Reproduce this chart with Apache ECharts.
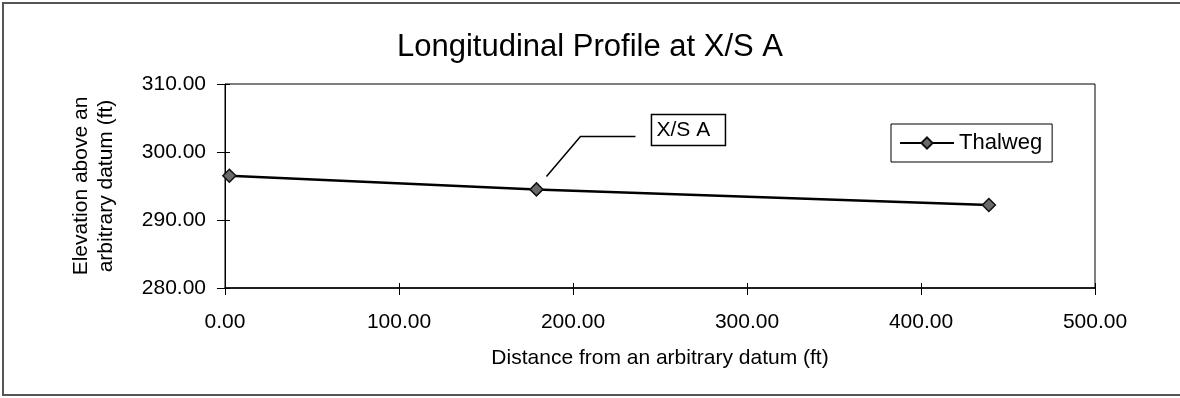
<!DOCTYPE html>
<html>
<head>
<meta charset="utf-8">
<title>Longitudinal Profile at X/S A</title>
<script src="https://cdn.jsdelivr.net/npm/echarts@6/dist/echarts.min.js"></script>
<style>
  html, body { margin: 0; padding: 0; background: #fff; }
  #chart { width: 1180px; height: 398px; }
</style>
</head>
<body>
<div id="chart"></div>
<script>
// Thalweg survey: distance along the reach (ft) and bed elevation (ft)
const distance = [2.5, 179, 439];
const thalweg = [296.5, 294.5, 292.2];

// Axis ranges and tick spacing
const xTicks = { min: 0, max: 500, interval: 100 };
const yTicks = { min: 280, max: 310, interval: 10 };

// Index of the cross-section called out on the plot
const sectionIndex = 1;
const sectionLabel = 'X/S A';

const FONT = 'Liberation Sans, Arial, Helvetica, sans-serif';
const fmt2 = v => Number(v).toFixed(2);

const chart = echarts.init(document.getElementById('chart'), null, { renderer: 'canvas' });

const grid = { left: 225, right: 85, top: 84, bottom: 110, show: true,
  borderColor: '#000', borderWidth: 1, backgroundColor: 'transparent' };

const option = {
  animation: false,
  backgroundColor: '#fff',
  title: {
    text: 'Longitudinal Profile at X/S A',
    left: 'center',
    top: 27,
    textStyle: { fontFamily: FONT, fontSize: 31, fontWeight: 'normal', color: '#000' }
  },
  legend: {
    data: ['Thalweg'],
    left: 891,
    top: 124,
    orient: 'horizontal',
    borderColor: '#000',
    borderWidth: 1,
    padding: [8, 10, 8, 8],
    itemWidth: 54,
    itemHeight: 14,
    itemGap: 6,
    textStyle: { fontFamily: FONT, fontSize: 22, color: '#000' }
  },
  grid: grid,
  xAxis: [
    {
      type: 'value', min: xTicks.min, max: xTicks.max, interval: xTicks.interval,
      position: 'bottom',
      name: 'Distance from an arbitrary datum (ft)',
      nameLocation: 'middle', nameGap: 60,
      nameTextStyle: { fontFamily: FONT, fontSize: 21, color: '#000' },
      axisLine: { show: true, lineStyle: { color: '#000', width: 1.5 } },
      axisTick: { show: true, length: 7, lineStyle: { color: '#000' } },
      axisLabel: { formatter: fmt2, margin: 24, fontFamily: FONT, fontSize: 21, color: '#000' },
      splitLine: { show: false }
    },
    {
      // inner half of the crossing tick marks
      type: 'value', min: xTicks.min, max: xTicks.max, interval: xTicks.interval,
      position: 'bottom',
      axisLine: { show: false },
      axisTick: { show: true, inside: true, length: 5, lineStyle: { color: '#000' } },
      axisLabel: { show: false },
      splitLine: { show: false }
    }
  ],
  yAxis: [
    {
      type: 'value', min: yTicks.min, max: yTicks.max, interval: yTicks.interval,
      position: 'left',
      name: 'Elevation above an\narbitrary datum (ft)',
      nameLocation: 'middle', nameGap: 106,
      nameTextStyle: { fontFamily: FONT, fontSize: 21, color: '#000', lineHeight: 25, align: 'center' },
      axisLine: { show: true, lineStyle: { color: '#000', width: 1 } },
      axisTick: { show: true, length: 8, lineStyle: { color: '#000' } },
      axisLabel: { formatter: fmt2, margin: 19, fontFamily: FONT, fontSize: 21, color: '#000' },
      splitLine: { show: false }
    },
    {
      type: 'value', min: yTicks.min, max: yTicks.max, interval: yTicks.interval,
      position: 'left',
      axisLine: { show: false },
      axisTick: { show: true, inside: true, length: 5, lineStyle: { color: '#000' } },
      axisLabel: { show: false },
      splitLine: { show: false }
    }
  ],
  series: [
    {
      name: 'Thalweg',
      type: 'line',
      xAxisIndex: 0,
      yAxisIndex: 0,
      data: distance.map((d, i) => [d, thalweg[i]]),
      symbol: 'diamond',
      symbolSize: 13,
      lineStyle: { color: '#000', width: 2.5 },
      itemStyle: { color: '#6a6a6a', borderColor: '#111', borderWidth: 1.5 },
      emphasis: { disabled: true }
    }
  ]
};

chart.setOption(option);

// Call-out for the cross-section, anchored to its surveyed point
const p = chart.convertToPixel({ xAxisIndex: 0, yAxisIndex: 0 }, [distance[sectionIndex], thalweg[sectionIndex]]);
const bx = p[0] + 115, by = p[1] - 75;
chart.setOption({
  graphic: [
    {
      // page frame
      type: 'rect', silent: true,
      shape: { x: 3, y: 3, width: 1200, height: 392 },
      style: { fill: 'none', stroke: '#555', lineWidth: 2 }
    },
    {
      type: 'polyline', silent: true,
      shape: { points: [[p[0] + 10, p[1] - 13], [p[0] + 44, p[1] - 53], [p[0] + 99, p[1] - 53]] },
      style: { stroke: '#000', lineWidth: 1.5, fill: 'none' }
    },
    {
      type: 'rect', silent: true,
      shape: { x: bx, y: by, width: 74, height: 31 },
      style: { fill: '#fff', stroke: '#000', lineWidth: 1.5 }
    },
    {
      type: 'text', silent: true,
      x: bx + 5, y: by + 16,
      style: { text: sectionLabel, fontFamily: FONT, fontSize: 21, fill: '#000', verticalAlign: 'middle', align: 'left' }
    }
  ]
});
</script>
</body>
</html>
